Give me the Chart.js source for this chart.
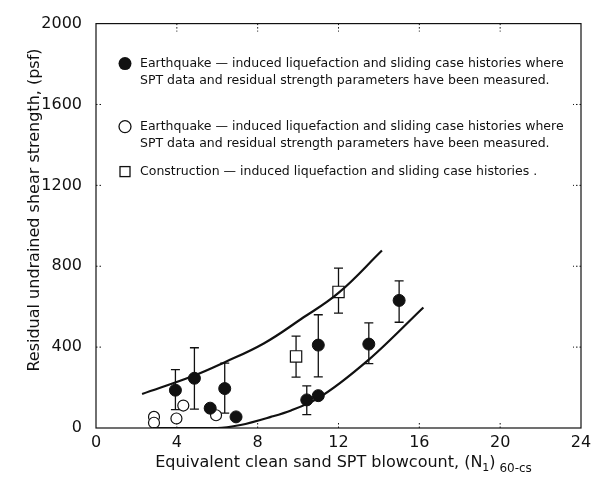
<!DOCTYPE html>
<html>
<head>
<meta charset="utf-8">
<script src="https://cdn.jsdelivr.net/npm/chart.js@4.4.0/dist/chart.umd.min.js"></script>
<style>
  html, body { margin: 0; padding: 0; background: #fff; }
</style>
</head>
<body>
<canvas id="chart" width="598" height="484"></canvas>
<script>
// data
const filledX  = [3.93, 4.87, 5.65, 6.37, 6.93, 10.43, 11.0, 11.0, 13.5, 15.0];
const filledY  = [187, 246, 98, 195, 55, 139, 160, 410, 415, 631];
const filledHi = [289, 397, null, 321, null, 208, null, 560, 520, 728];
const filledLo = [91, 93, null, 74, null, 66, null, 253, 318, 523];

const openX = [2.87, 2.87, 3.98, 4.32, 5.94];
const openY = [55, 26, 47, 111, 63];

const squareX  = [9.9, 12.0];
const squareY  = [354, 673];
const squareHi = [454, 791];
const squareLo = [252, 568];

const upperX = [2.28, 4.8, 6.3, 8.3, 10.15, 12.0, 14.15];
const upperY = [168, 257, 322, 418, 539, 668, 878];
const lowerX = [2.8, 6.0, 7.15, 8.65, 9.65, 11.0, 13.5, 16.2];
const lowerY = [0, 0, 15, 55, 87, 148, 338, 596];

const xTicks = [0, 4, 8, 12, 16, 20, 24];
const yTicks = [0, 400, 800, 1200, 1600, 2000];

const yTitle = 'Residual undrained shear strength, (psf)';
const legendLines = [
  ['Earthquake \u2014 induced liquefaction and sliding case histories where',
   'SPT data and residual strength parameters have been measured.'],
  ['Earthquake \u2014 induced liquefaction and sliding case histories where',
   'SPT data and residual strength parameters have been measured.'],
  ['Construction \u2014 induced liquefaction and sliding case histories .']
];

const pts = (xs, ys) => xs.map((x, i) => ({x: x, y: ys[i]}));
const FONT = '"DejaVu Sans", sans-serif';

Chart.defaults.font.family = FONT;
Chart.defaults.color = '#111';

const overlay = {
  id: 'overlay',
  beforeDatasetsDraw(chart) {
    const {ctx, scales: {x, y}} = chart;
    ctx.save();
    ctx.strokeStyle = '#111';
    ctx.lineWidth = 1.3;
    const bars = (xs, his, los) => {
      xs.forEach((v, i) => {
        if (his[i] == null) return;
        const px = x.getPixelForValue(v);
        const top = y.getPixelForValue(his[i]);
        const bot = y.getPixelForValue(los[i]);
        ctx.beginPath();
        ctx.moveTo(px, top); ctx.lineTo(px, bot);
        ctx.moveTo(px - 4.5, top); ctx.lineTo(px + 4.5, top);
        ctx.moveTo(px - 4.5, bot); ctx.lineTo(px + 4.5, bot);
        ctx.stroke();
      });
    };
    bars(filledX, filledHi, filledLo);
    bars(squareX, squareHi, squareLo);
    ctx.restore();
  },
  afterDatasetsDraw(chart) {
    const {ctx, chartArea: a, scales: {x, y}} = chart;
    ctx.save();
    // frame
    ctx.strokeStyle = '#111';
    ctx.lineWidth = 1.2;
    ctx.strokeRect(a.left, a.top, a.right - a.left, a.bottom - a.top);
    // dotted inner ticks
    ctx.lineWidth = 1;
    ctx.setLineDash([1.5, 2]);
    ctx.beginPath();
    xTicks.slice(1, -1).forEach(v => {
      const px = x.getPixelForValue(v);
      ctx.moveTo(px, a.top); ctx.lineTo(px, a.top + 8);
      ctx.moveTo(px, a.bottom); ctx.lineTo(px, a.bottom - 7);
    });
    yTicks.slice(1, -1).forEach(v => {
      const py = y.getPixelForValue(v);
      ctx.moveTo(a.left, py); ctx.lineTo(a.left + 7, py);
      ctx.moveTo(a.right, py); ctx.lineTo(a.right - 8, py);
    });
    ctx.stroke();
    ctx.setLineDash([]);

    // legend
    const lx = a.left + 29, tx = a.left + 44;
    const rows = [a.top + 40, a.top + 103, a.top + 148];
    ctx.font = '12.5px ' + FONT;
    ctx.fillStyle = '#111';
    ctx.textBaseline = 'middle';
    ctx.textAlign = 'left';
    legendLines.forEach((lines, i) => {
      lines.forEach((t, j) => ctx.fillText(t, tx, rows[i] + j * 17));
    });
    ctx.lineWidth = 1.3;
    ctx.beginPath(); ctx.arc(lx, rows[0], 6.5, 0, Math.PI * 2); ctx.fill();
    ctx.beginPath(); ctx.arc(lx, rows[1], 6, 0, Math.PI * 2); ctx.stroke();
    ctx.strokeRect(lx - 5, rows[2] - 5, 10, 10);

    // y axis title
    ctx.save();
    ctx.translate(35, 210);
    ctx.rotate(-Math.PI / 2);
    ctx.font = '16px ' + FONT;
    ctx.textAlign = 'center';
    ctx.textBaseline = 'middle';
    ctx.fillText(yTitle, 0, 0);
    ctx.restore();

    // x axis title with subscripts
    const parts = [
      ['Equivalent clean sand SPT blowcount, (N', 16, 0],
      ['1', 11, 4],
      [')', 16, 0],
      [' 60-cs', 12, 5]
    ];
    let total = 0;
    parts.forEach(p => { ctx.font = p[1] + 'px ' + FONT; total += ctx.measureText(p[0]).width; });
    let cx = (a.left + a.right) / 2 + 5 - total / 2;
    const base = 467;
    ctx.textAlign = 'left';
    ctx.textBaseline = 'alphabetic';
    parts.forEach(p => {
      ctx.font = p[1] + 'px ' + FONT;
      ctx.fillText(p[0], cx, base + p[2]);
      cx += ctx.measureText(p[0]).width;
    });
    ctx.restore();
  }
};

const curveStyle = {
  type: 'line', showLine: true, pointRadius: 0, borderColor: '#111',
  borderWidth: 2.2, fill: false
};

const data = {
  datasets: [
    Object.assign({label: 'upper bound', data: pts(upperX, upperY), tension: 0.4}, curveStyle),
    Object.assign({label: 'lower bound', data: pts(lowerX, lowerY), cubicInterpolationMode: 'monotone'}, curveStyle),
    {
      type: 'scatter', label: 'Earthquake (measured)', data: pts(filledX, filledY),
      pointRadius: 6, backgroundColor: '#111', borderColor: '#111', borderWidth: 1
    },
    {
      type: 'scatter', label: 'Earthquake (open)', data: pts(openX, openY),
      pointRadius: 5.5, backgroundColor: '#fff', borderColor: '#111', borderWidth: 1.2
    },
    {
      type: 'scatter', label: 'Construction', data: pts(squareX, squareY),
      pointStyle: 'rect', pointRadius: 8, backgroundColor: '#fff', borderColor: '#111', borderWidth: 1.2
    }
  ]
};

const options = {
  responsive: false,
  animation: false,
  layout: { padding: { top: 15, right: 17, left: 0, bottom: 0 } },
  plugins: { legend: { display: false }, tooltip: { enabled: false } },
  scales: {
    x: {
      type: 'linear', min: 0, max: 24,
      ticks: { stepSize: 4, font: { size: 16 }, padding: 5, maxRotation: 0, callback: v => String(v) },
      grid: { display: false, drawTicks: false },
      border: { display: false },
      afterFit(s) { s.height = 56; }
    },
    y: {
      type: 'linear', min: 0, max: 2000,
      ticks: { stepSize: 400, font: { size: 16 }, padding: 14, callback: v => String(v) },
      grid: { display: false, drawTicks: false },
      border: { display: false },
      afterFit(s) { s.width = 96; }
    }
  }
};

new Chart(document.getElementById('chart'), {
  type: 'scatter',
  data: data,
  options: options,
  plugins: [overlay]
});
</script>
</body>
</html>
